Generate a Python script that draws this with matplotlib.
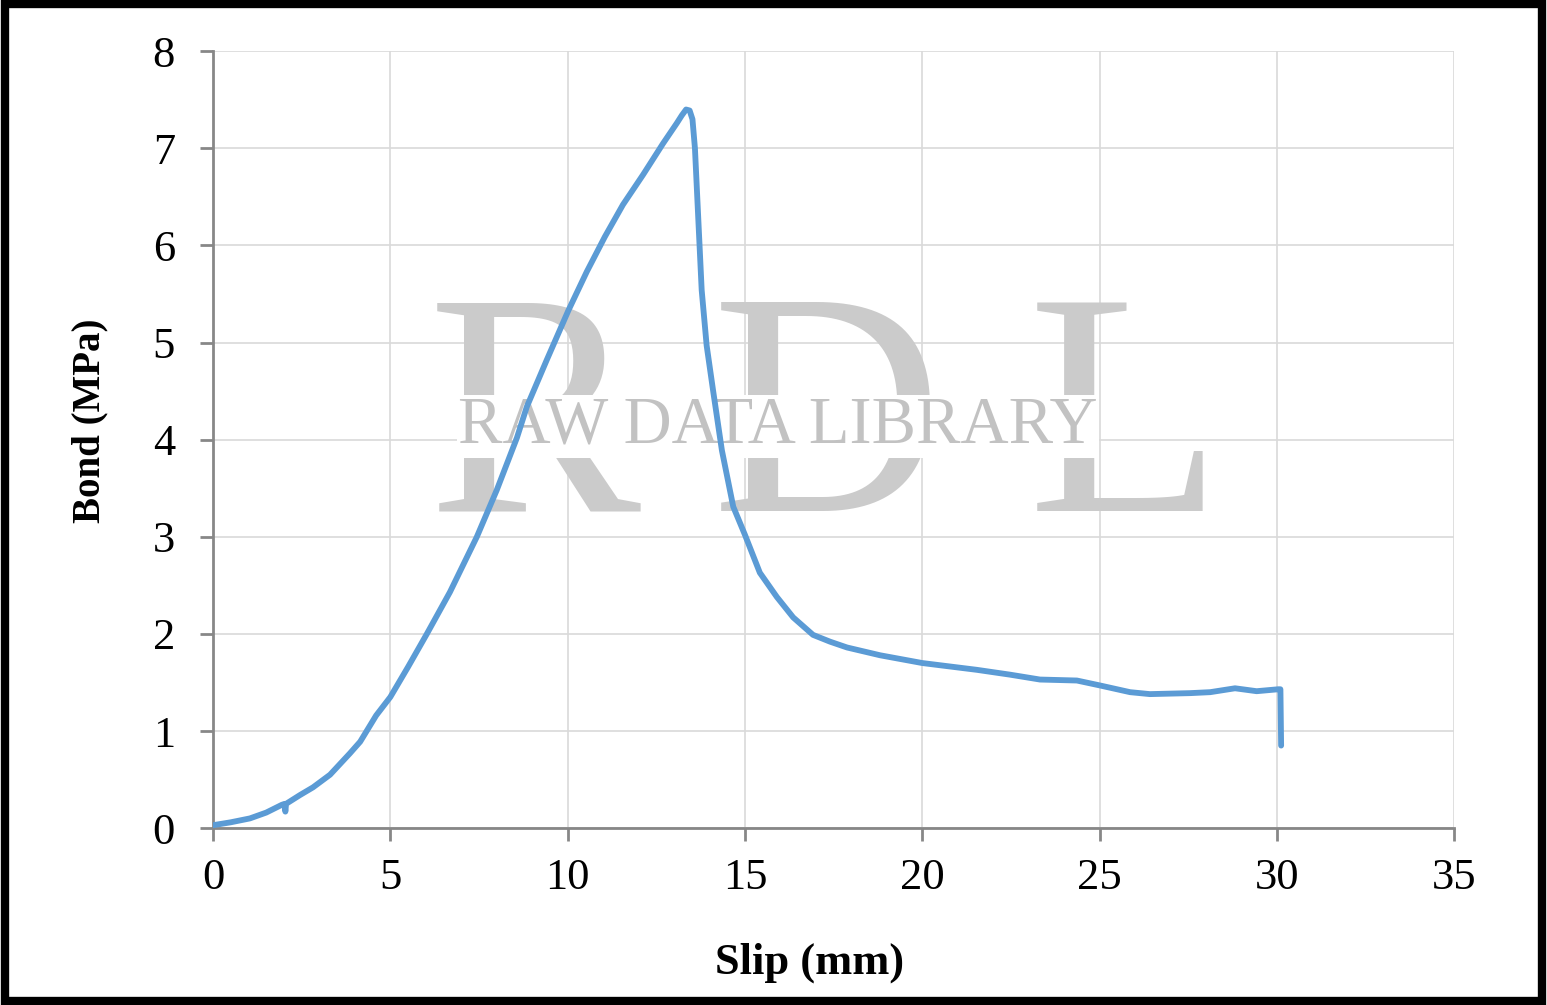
import numpy as np
import matplotlib.pyplot as plt
from matplotlib.patches import Rectangle

plt.rcParams['font.family'] = ['Liberation Serif', 'DejaVu Serif']

# slip (mm) vs bond (MPa)
slip = [0, 0.5, 1.04, 1.5, 1.94, 2.02, 2.04, 2.06, 2.45, 2.82,
        3.3, 3.86, 4.15, 4.6, 5.0, 5.5, 6.03, 6.68, 7.44, 8.0,
        8.57, 8.85, 9.41, 10.02, 10.54, 11.05, 11.56, 12.13, 12.69, 13.08,
        13.22, 13.34, 13.44, 13.52, 13.59, 13.69, 13.78, 13.92, 14.1, 14.35, 14.67, 15.0,
        15.42, 15.9, 16.36, 16.92, 17.4, 17.88, 18.81, 20.0, 21.54, 22.48,
        23.32, 24.36, 25.0, 25.86, 26.42, 27.55, 28.12, 28.82, 29.43, 30.04,
        30.1, 30.12]
bond = [0.03, 0.06, 0.10, 0.16, 0.24, 0.25, 0.17, 0.25, 0.34, 0.42,
        0.55, 0.77, 0.89, 1.16, 1.35, 1.66, 2.0, 2.43, 3.0, 3.48,
        4.02, 4.34, 4.82, 5.33, 5.73, 6.09, 6.42, 6.73, 7.05, 7.26,
        7.34, 7.40, 7.39, 7.30, 7.0, 6.23, 5.54, 4.97, 4.51, 3.89, 3.31, 3.02,
        2.63, 2.38, 2.17, 1.99, 1.92, 1.86, 1.78, 1.70, 1.63, 1.58,
        1.53, 1.52, 1.47, 1.40, 1.38, 1.39, 1.40, 1.44, 1.41, 1.43,
        1.43, 0.85]

fig = plt.figure(figsize=(15.47, 10.05), dpi=100)
ax = fig.add_axes([0.1377, 0.176, 0.8023, 0.773])

# watermark
for ch, xc in [('R', 0.2587), ('D', 0.4948), ('L', 0.7349)]:
    ax.text(xc, 0.507, ch, transform=ax.transAxes, fontsize=230, color='#cbcbcb',
            ha='center', va='center', zorder=1)
ax.text(0.455, 0.517, 'RAW DATA LIBRARY', transform=ax.transAxes, fontsize=48,
        color='#c2c2c2', ha='center', va='center', zorder=1.5,
        bbox=dict(facecolor='white', edgecolor='none', pad=1))

ax.plot(slip, bond, color='#5b9bd5', lw=4.2, zorder=3,
        solid_joinstyle='round', solid_capstyle='round')

ax.set_xlim(0, 35)
ax.set_ylim(0, 8)
ax.set_xticks(range(0, 36, 5))
ax.set_yticks(range(0, 9))
ax.grid(True, color='#d9d9d9', lw=1.2, zorder=0)
ax.set_axisbelow(True)
for s in ['top', 'right']:
    ax.spines[s].set_visible(False)
for s in ['left', 'bottom']:
    ax.spines[s].set_color('#878787')
    ax.spines[s].set_linewidth(2)
ax.tick_params(axis='both', direction='out', length=9.4, width=2, color='#878787',
               labelsize=32)
ax.tick_params(axis='y', pad=18)
ax.tick_params(axis='x', pad=12)

ax.set_xlabel('Slip (mm)', fontsize=32, fontweight='bold', labelpad=32)
ax.xaxis.label.set_x(0.481)
ax.set_ylabel('Bond (MPa)', fontsize=28, fontweight='bold', labelpad=32)
ax.yaxis.label.set_y(0.524)

fig.patches.append(Rectangle((0.003, 0.004), 0.994, 0.992, transform=fig.transFigure,
                             fill=False, edgecolor='black', lw=6))

fig.savefig('out.png', dpi=100)
